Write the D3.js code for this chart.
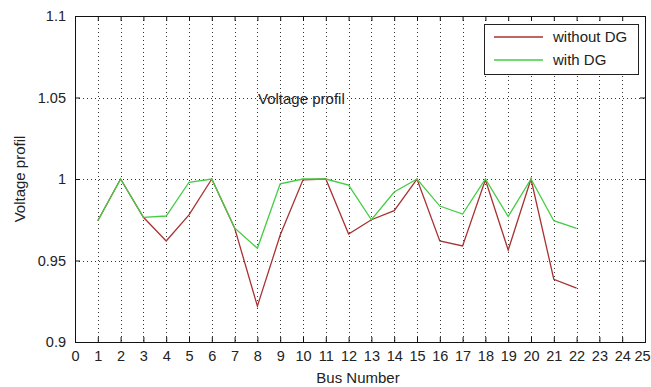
<!DOCTYPE html>
<html>
<head>
<meta charset="utf-8">
<script src="https://cdn.jsdelivr.net/npm/d3@7"></script>
<style>
  body { margin: 0; background: #fff; }
  text { font-family: "Liberation Sans", Arial, sans-serif; fill: #222; }
</style>
</head>
<body>
<svg id="chart" width="651" height="387"></svg>
<script>
// Bus numbers and voltage magnitudes (p.u.)
const buses = [1, 2, 3, 4, 5, 6, 7, 8, 9, 10, 11, 12, 13, 14, 15, 16, 17, 18, 19, 20, 21, 22];
const withoutDG = [0.9744, 1.0, 0.9765, 0.962, 0.978, 1.0, 0.970, 0.922, 0.9656, 0.9995, 1.0, 0.9663, 0.975, 0.9806, 1.0, 0.962, 0.9589, 0.9995, 0.9564, 1.0, 0.9385, 0.933];
const withDG = [0.9744, 1.0, 0.9765, 0.9773, 0.998, 1.0, 0.970, 0.9575, 0.997, 1.0, 1.0, 0.9963, 0.975, 0.992, 1.0, 0.9834, 0.9785, 1.0, 0.977, 1.0, 0.9744, 0.9697];
const xTicks = d3.range(0, 26);
const yTicks = [0.9, 0.95, 1.0, 1.05, 1.1];
const seriesNames = ["without DG", "with DG"];
const seriesColors = ["#a83232", "#44cc44"];

const svg = d3.select("#chart");
const L = 75, R = 645, T = 16, B = 342;

const x = d3.scaleLinear().domain([0, 25]).range([L, R]);
const y = d3.scaleLinear().domain([0.9, 1.1]).range([B, T]);

// Dotted grid
const grid = svg.append("g").attr("stroke", "#333").attr("stroke-width", 1)
  .attr("stroke-dasharray", "1,3");
grid.selectAll(".gx").data(xTicks.slice(1, -1)).join("line")
  .attr("x1", d => Math.round(x(d)) + 0.5).attr("x2", d => Math.round(x(d)) + 0.5)
  .attr("y1", T).attr("y2", B);
grid.selectAll(".gy").data(yTicks.slice(1, -1)).join("line")
  .attr("y1", d => Math.round(y(d)) + 0.5).attr("y2", d => Math.round(y(d)) + 0.5)
  .attr("x1", L).attr("x2", R);

// Axes (ticks pointing inward, mirrored on top and right)
const fmtY = d => d3.format("")(+d.toFixed(2));
const axB = svg.append("g").attr("transform", `translate(0,${B})`)
  .call(d3.axisBottom(x).tickValues(xTicks).tickSize(-5).tickPadding(9).tickFormat(d3.format("d")));
const axT = svg.append("g").attr("transform", `translate(0,${T})`)
  .call(d3.axisTop(x).tickValues(xTicks).tickSize(-5).tickFormat(""));
const axL = svg.append("g").attr("transform", `translate(${L},0)`)
  .call(d3.axisLeft(y).tickValues(yTicks).tickSize(-5).tickPadding(9).tickFormat(fmtY));
const axR = svg.append("g").attr("transform", `translate(${R},0)`)
  .call(d3.axisRight(y).tickValues(yTicks).tickSize(-5).tickFormat(""));
[axB, axT, axL, axR].forEach(a => {
  a.select(".domain").attr("stroke", "#111");
  a.selectAll(".tick line").attr("stroke", "#111");
  a.selectAll("text").attr("font-size", 14.5).attr("fill", "#333")
    .attr("font-family", "'Liberation Sans', Arial, sans-serif");
});
// keep the last x label inside the page edge
axB.selectAll(".tick text").filter(d => d === 25).attr("dx", -3);

// Series lines
const line = d3.line().x((d, i) => x(buses[i])).y(d => y(d));
[withoutDG, withDG].forEach((s, k) => {
  svg.append("path").datum(s).attr("fill", "none")
    .attr("stroke", seriesColors[k]).attr("stroke-width", 1.3)
    .attr("d", line);
});

// Axis titles and in-plot label
svg.append("text").attr("x", 358).attr("y", 383).attr("text-anchor", "middle")
  .attr("font-size", 15).text("Bus Number");
svg.append("text").attr("transform", `translate(25,${(T + B) / 2}) rotate(-90)`)
  .attr("text-anchor", "middle").attr("font-size", 15).text("Voltage profil");
svg.append("text").attr("x", 258).attr("y", y(1.05) + 6)
  .attr("font-size", 15).text("Voltage profil");

// Legend
const lg = svg.append("g");
lg.append("rect").attr("x", 484.5).attr("y", 24.5).attr("width", 154).attr("height", 50)
  .attr("fill", "#fff").attr("stroke", "#222");
seriesNames.forEach((n, k) => {
  const yy = 37 + k * 23;
  lg.append("line").attr("x1", 494).attr("x2", 543).attr("y1", yy).attr("y2", yy)
    .attr("stroke", seriesColors[k]).attr("stroke-width", 1.3);
  lg.append("text").attr("x", 553).attr("y", yy + 5).attr("font-size", 15).text(n);
});
</script>
</body>
</html>
